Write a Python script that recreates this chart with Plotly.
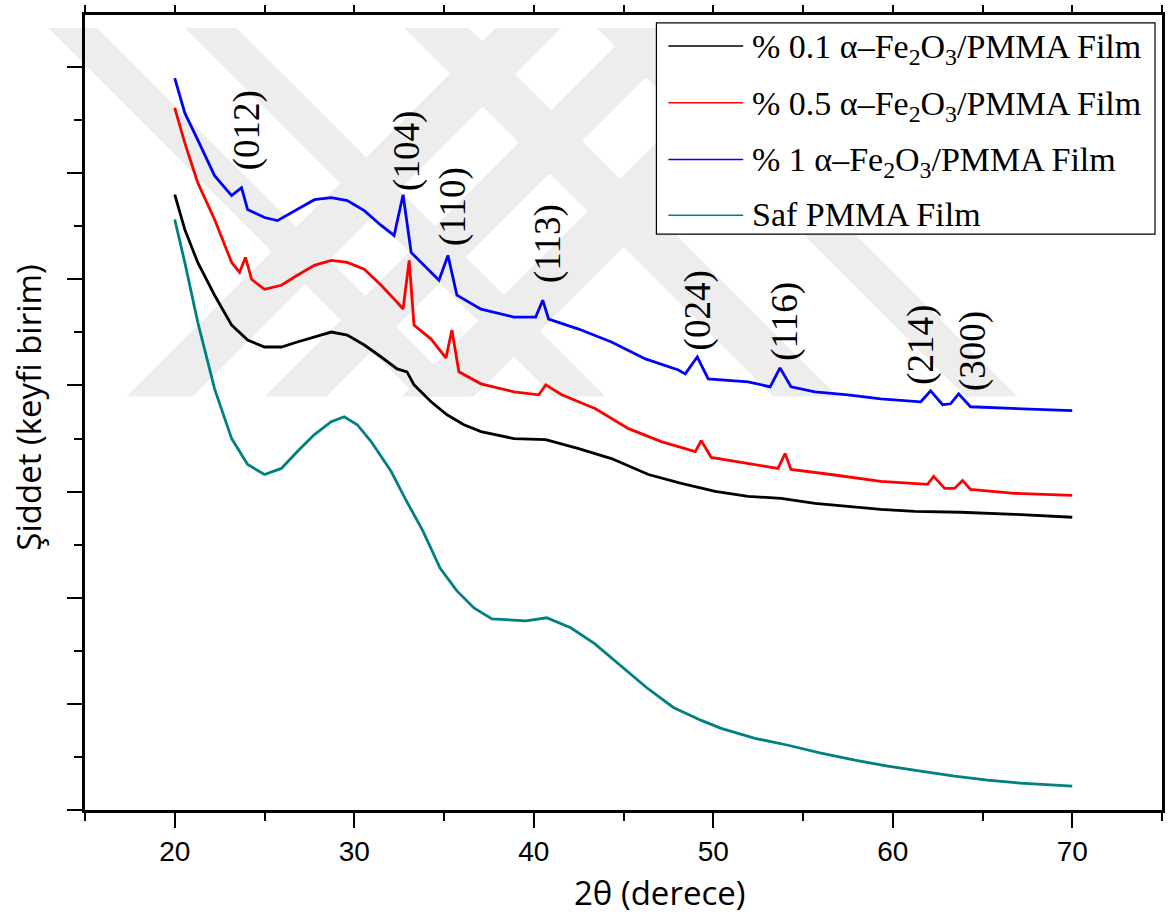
import plotly.graph_objects as go

# XRD patterns, 2θ in degrees, intensity in arbitrary units
tt_01 = [20.00, 20.56, 21.28, 22.22, 23.17, 24.06, 25.00, 25.94, 26.83, 27.78, 28.72, 29.61,
         30.56, 31.50, 32.39, 32.94, 33.33, 34.28, 35.17, 36.11, 37.06, 38.89, 40.67, 42.50,
         44.33, 46.39, 48.22, 50.11, 51.94, 53.78, 55.67, 57.50, 59.33, 61.22, 63.78, 66.78, 70.00]
int_01 = [5.797, 5.469, 5.159, 4.850, 4.568, 4.428, 4.362, 4.362, 4.409, 4.456, 4.503, 4.475,
          4.381, 4.268, 4.156, 4.128, 4.006, 3.846, 3.724, 3.630, 3.565, 3.499, 3.490, 3.405,
          3.311, 3.161, 3.077, 3.002, 2.955, 2.936, 2.889, 2.861, 2.833, 2.814, 2.805, 2.786, 2.758]

tt_05 = [20.00, 20.56, 21.28, 22.22, 23.17, 23.61, 23.94, 24.28, 25.00, 25.94, 26.83, 27.78,
         28.72, 29.61, 30.56, 31.50, 32.39, 32.72, 33.06, 33.33, 34.28, 35.11, 35.44, 35.83,
         37.06, 38.89, 40.28, 40.67, 41.56, 43.44, 45.28, 47.11, 49.00, 49.33, 49.89, 51.94,
         53.61, 54.00, 54.33, 56.56, 59.33, 61.94, 62.28, 62.89, 63.44, 63.89, 64.33, 66.78, 70.00]
int_05 = [6.614, 6.285, 5.910, 5.563, 5.159, 5.066, 5.206, 5.000, 4.906, 4.944, 5.038, 5.131,
          5.178, 5.159, 5.094, 4.944, 4.784, 4.719, 5.178, 4.568, 4.437, 4.259, 4.522, 4.128,
          4.015, 3.940, 3.912, 4.006, 3.912, 3.780, 3.593, 3.471, 3.377, 3.480, 3.321, 3.265,
          3.218, 3.358, 3.208, 3.161, 3.096, 3.068, 3.143, 3.030, 3.030, 3.105, 3.021, 2.983, 2.964]

tt_1 = [20.00, 20.56, 21.28, 22.22, 23.17, 23.72, 24.06, 25.00, 25.72, 26.83, 27.78, 28.72,
        29.61, 30.56, 31.50, 32.22, 32.72, 33.17, 33.89, 34.72, 35.22, 35.72, 37.06, 38.89,
        40.11, 40.50, 40.83, 42.50, 44.33, 46.22, 48.06, 48.44, 49.11, 49.72, 51.94, 53.17,
        53.72, 54.33, 55.67, 57.50, 59.33, 61.56, 62.11, 62.78, 63.22, 63.67, 64.33, 66.78, 70.00]
int_1 = [6.895, 6.567, 6.313, 5.976, 5.788, 5.863, 5.657, 5.582, 5.553, 5.657, 5.750, 5.769,
         5.741, 5.647, 5.507, 5.413, 5.797, 5.253, 5.131, 4.991, 5.225, 4.850, 4.719, 4.644,
         4.644, 4.803, 4.625, 4.531, 4.409, 4.250, 4.146, 4.109, 4.268, 4.062, 4.034, 3.987,
         4.165, 3.987, 3.940, 3.912, 3.874, 3.846, 3.949, 3.818, 3.827, 3.921, 3.799, 3.780, 3.762]

tt_pmma = [20.00, 20.56, 21.28, 22.22, 23.17, 24.06, 25.00, 25.94, 26.83, 27.78, 28.72, 29.44,
           30.17, 30.94, 32.06, 32.83, 33.83, 34.78, 35.72, 36.67, 37.67, 39.56, 40.72, 42.06,
           43.39, 44.72, 46.28, 47.78, 49.33, 50.44, 52.33, 54.17, 56.00, 57.89, 59.72, 61.56,
           63.44, 65.28, 67.11, 70.00]
int_pmma = [5.563, 5.159, 4.597, 3.968, 3.499, 3.255, 3.161, 3.218, 3.377, 3.537, 3.659, 3.705,
            3.630, 3.471, 3.189, 2.936, 2.627, 2.280, 2.064, 1.904, 1.801, 1.782, 1.811, 1.717,
            1.567, 1.379, 1.154, 0.966, 0.844, 0.769, 0.675, 0.610, 0.535, 0.469, 0.413, 0.366,
            0.319, 0.281, 0.253, 0.225]

series_names = ["% 0.1 α–Fe<sub>2</sub>O<sub>3</sub>/PMMA Film",
                "% 0.5 α–Fe<sub>2</sub>O<sub>3</sub>/PMMA Film",
                "% 1 α–Fe<sub>2</sub>O<sub>3</sub>/PMMA Film",
                "Saf PMMA Film"]
series_colors = ["#000000", "#ff0000", "#0000ff", "#008080"]

# hematite reflections: label, 2θ position, label height
peak_labels = ["(012)", "(104)", "(110)", "(113)", "(024)", "(116)", "(214)", "(300)"]
peak_tt = [24.0, 32.94, 35.5, 40.78, 49.17, 54.0, 61.56, 64.5]
peak_lab_y = [6.40, 6.21, 5.69, 5.34, 4.71, 4.60, 4.38, 4.32]

XR = [15, 75]
YR = [0, 7.49]

W, H = 1171, 915
ML, MR, MT, MB = 85, 6, 12, 105


def px_x(p):
    return (p - ML) / (W - ML - MR)


def px_y(p):
    return (H - MB - p) / (H - MT - MB)


fig = go.Figure()

# faint diagonal background stamp: 45° stripes between two horizontal edges
STAMP_TOP, STAMP_BOT = 25, 395
stripes_down = [(48, 97), (185, 237), (405, 470), (598, 650)]   # left edges at the top
stripes_up = [(127, 193), (265, 327), (403, 475)]               # left edges at the bottom
drop = STAMP_BOT - STAMP_TOP


def band(pts):
    d = "M " + " L ".join(f"{px_x(a):.4f},{px_y(b):.4f}" for a, b in pts) + " Z"
    fig.add_shape(type="path", path=d, xref="paper", yref="paper",
                  fillcolor="#ededed", line=dict(width=0), layer="below")


for a, b in stripes_down:
    band([(a, STAMP_TOP), (b, STAMP_TOP), (b + drop, STAMP_BOT), (a + drop, STAMP_BOT)])
for a, b in stripes_up:
    band([(a, STAMP_BOT), (b, STAMP_BOT), (b + drop, STAMP_TOP), (a + drop, STAMP_TOP)])

data = [(tt_pmma, int_pmma, 3), (tt_01, int_01, 0), (tt_05, int_05, 1), (tt_1, int_1, 2)]
for xs, ys, k in data:
    fig.add_trace(go.Scatter(x=xs, y=ys, mode="lines", name=series_names[k],
                             line=dict(color=series_colors[k], width=2.8),
                             showlegend=False, hoverinfo="skip"))

# carrier for the top tick row
fig.add_trace(go.Scatter(x=[None], y=[None], xaxis="x2", showlegend=False, hoverinfo="skip"))

# peak labels
for lab, px, py in zip(peak_labels, peak_tt, peak_lab_y):
    fig.add_annotation(x=px, y=py, xref="x", yref="y", text=lab, showarrow=False,
                       textangle=-90, xanchor="center", yanchor="middle",
                       font=dict(family="Liberation Serif", size=37, color="black"))

# legend box drawn in paper coordinates
fig.add_shape(type="rect", xref="paper", yref="paper",
              x0=px_x(658), x1=px_x(1158), y0=px_y(232), y1=px_y(20),
              line=dict(color="black", width=1.2), fillcolor="white", layer="above")
row_px = [43, 100, 157, 213]
text_shift = [3, 3, 3, -1]
for k in range(4):
    fig.add_shape(type="line", xref="paper", yref="paper", x0=px_x(670), x1=px_x(745),
                  y0=px_y(row_px[k]), y1=px_y(row_px[k]),
                  line=dict(color=series_colors[k], width=1.5), layer="above")
    fig.add_annotation(x=px_x(752), y=px_y(row_px[k] + text_shift[k]), xref="paper", yref="paper",
                       text=series_names[k], showarrow=False, xanchor="left", yanchor="middle",
                       font=dict(family="Liberation Serif", size=34, color="black"))

# axis titles
fig.add_annotation(x=px_x(661), y=px_y(893), xref="paper", yref="paper", text="2θ (derece)",
                   showarrow=False, xanchor="center", yanchor="middle",
                   font=dict(family="Open Sans", size=33, color="black"))
fig.add_annotation(x=px_x(28), y=px_y(406), xref="paper", yref="paper",
                   text="Şiddet (keyfi birim)",
                   showarrow=False, textangle=-90, xanchor="center", yanchor="middle",
                   font=dict(family="Open Sans", size=33, color="black"))

fig.update_layout(
    width=W, height=H,
    margin=dict(l=ML, r=MR, t=MT, b=MB),
    paper_bgcolor="white", plot_bgcolor="rgba(0,0,0,0)",
    xaxis=dict(range=XR, tick0=20, dtick=10, ticks="outside", ticklen=15, tickwidth=2,
               tickcolor="black", showline=True, linewidth=2.5, linecolor="black",
               mirror=True, showgrid=False, zeroline=False,
               tickfont=dict(family="Liberation Sans", size=28, color="black"),
               minor=dict(tick0=15, dtick=5, ticks="outside", ticklen=8, tickwidth=2,
                          tickcolor="black", showgrid=False)),
    xaxis2=dict(range=XR, overlaying="x", side="top", tick0=15, dtick=5, ticks="outside",
                ticklen=9, tickwidth=2, tickcolor="black", showticklabels=False,
                showline=False, showgrid=False, zeroline=False),
    yaxis=dict(range=YR, tick0=0, dtick=1, ticks="outside", ticklen=15, tickwidth=2,
               tickcolor="black", showline=True, linewidth=2.5, linecolor="black",
               mirror=True, showgrid=False, zeroline=False, showticklabels=False,
               minor=dict(tick0=0, dtick=0.5, ticks="outside", ticklen=8, tickwidth=2,
                          tickcolor="black", showgrid=False)),
)

fig.write_html("out.html")
